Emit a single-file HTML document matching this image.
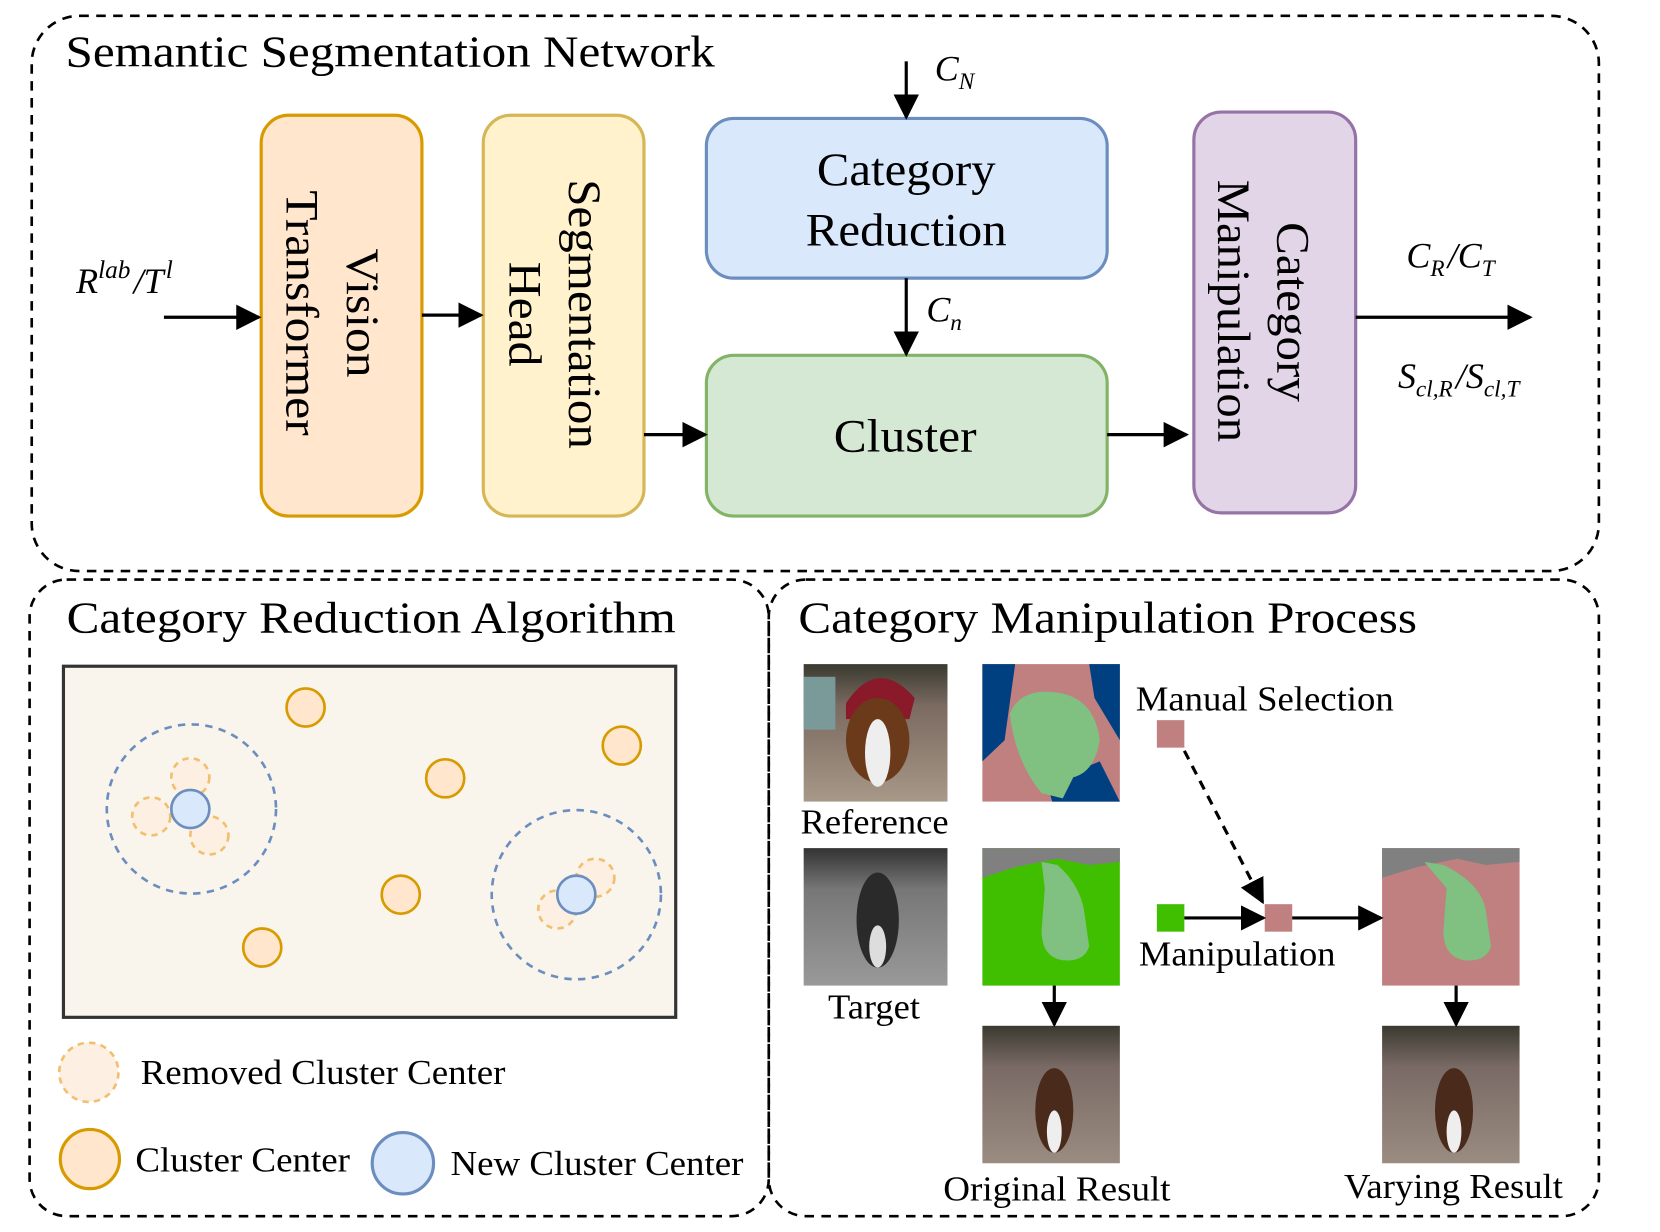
<!DOCTYPE html>
<html><head><meta charset="utf-8">
<style>html,body{margin:0;padding:0;background:#fff;}svg{display:block;}
text{font-family:"Liberation Serif",serif;fill:#000;}</style></head>
<body>
<svg width="1660" height="1232" viewBox="0 0 1569.8 1165" preserveAspectRatio="none" xmlns="http://www.w3.org/2000/svg">
<defs>
<marker id="a2" viewBox="0 0 10 10" refX="9" refY="5" markerWidth="24" markerHeight="24" orient="auto" markerUnits="userSpaceOnUse"><path d="M0,0 L10,5 L0,10 z" fill="#000"/></marker>
<linearGradient id="gph" x1="0" y1="0" x2="0" y2="1"><stop offset="0" stop-color="#3a3a30"/><stop offset="0.3" stop-color="#7a6a60"/><stop offset="1" stop-color="#a89888"/></linearGradient>
<linearGradient id="gph2" x1="0" y1="0" x2="0" y2="1"><stop offset="0" stop-color="#3a3a30"/><stop offset="0.3" stop-color="#7a6a66"/><stop offset="1" stop-color="#9a8c80"/></linearGradient>
<linearGradient id="ggr" x1="0" y1="0" x2="0" y2="1"><stop offset="0" stop-color="#333"/><stop offset="0.3" stop-color="#777"/><stop offset="1" stop-color="#999"/></linearGradient>
</defs>

<rect x="30" y="15" width="1482" height="525" rx="45" fill="none" stroke="#000" stroke-width="2.5" stroke-dasharray="9,7"/>
<rect x="28" y="548" width="699" height="602" rx="35" fill="none" stroke="#000" stroke-width="2.5" stroke-dasharray="9,7"/>
<rect x="727" y="548" width="785" height="602" rx="35" fill="none" stroke="#000" stroke-width="2.5" stroke-dasharray="9,7"/>

<text x="62" y="63" font-size="42" textLength="614" lengthAdjust="spacingAndGlyphs">Semantic Segmentation Network</text>

<rect x="247" y="109" width="152" height="379" rx="26" fill="#ffe6cc" stroke="#d79b00" stroke-width="3"/>
<rect x="457" y="109" width="152" height="379" rx="26" fill="#fff2cc" stroke="#d6b656" stroke-width="3"/>
<rect x="668" y="112" width="379" height="151" rx="26" fill="#dae8fc" stroke="#6c8ebf" stroke-width="3"/>
<rect x="668" y="336" width="379" height="152" rx="26" fill="#d5e8d4" stroke="#82b366" stroke-width="3"/>
<rect x="1129" y="106" width="153" height="379" rx="26" fill="#e1d5e7" stroke="#9673a6" stroke-width="3"/>

<g font-size="44" text-anchor="middle">
<text transform="translate(328,296) rotate(90)" textLength="122" lengthAdjust="spacingAndGlyphs">Vision</text>
<text transform="translate(271,296) rotate(90)" textLength="232" lengthAdjust="spacingAndGlyphs">Transformer</text>
<text transform="translate(538,297) rotate(90)" textLength="255" lengthAdjust="spacingAndGlyphs">Segmentation</text>
<text transform="translate(482,297) rotate(90)" textLength="99" lengthAdjust="spacingAndGlyphs">Head</text>
<text x="857" y="175" textLength="169" lengthAdjust="spacingAndGlyphs">Category</text>
<text x="857" y="232" textLength="190" lengthAdjust="spacingAndGlyphs">Reduction</text>
<text x="856" y="427" textLength="135" lengthAdjust="spacingAndGlyphs">Cluster</text>
<text transform="translate(1208,295) rotate(90)" textLength="170" lengthAdjust="spacingAndGlyphs">Category</text>
<text transform="translate(1152,294) rotate(90)" textLength="248" lengthAdjust="spacingAndGlyphs">Manipulation</text>
</g>

<g stroke="#000" stroke-width="3" fill="none">
<line x1="155" y1="300" x2="245" y2="300" marker-end="url(#a2)"/>
<line x1="399" y1="298" x2="455" y2="298" marker-end="url(#a2)"/>
<line x1="609" y1="411" x2="667" y2="411" marker-end="url(#a2)"/>
<line x1="1047" y1="411" x2="1122" y2="411" marker-end="url(#a2)"/>
<line x1="857" y1="58" x2="857" y2="111" marker-end="url(#a2)"/>
<line x1="857" y1="263" x2="857" y2="335" marker-end="url(#a2)"/>
<line x1="1282" y1="300" x2="1447" y2="300" marker-end="url(#a2)"/>
</g>

<g font-style="italic" font-size="34">
<text x="72" y="277">R<tspan font-size="24" dy="-14">lab</tspan><tspan dy="14" dx="3">/T</tspan><tspan font-size="24" dy="-14" dx="2">l</tspan></text>
<text x="884" y="76">C<tspan font-size="22" dy="8">N</tspan></text>
<text x="876" y="304">C<tspan font-size="22" dy="8">n</tspan></text>
<text x="1330" y="253">C<tspan font-size="22" dy="8">R</tspan><tspan dy="-8" dx="3">/C</tspan><tspan font-size="22" dy="8">T</tspan></text>
<text x="1322" y="367">S<tspan font-size="22" dy="8">cl,R</tspan><tspan dy="-8" dx="3">/S</tspan><tspan font-size="22" dy="8">cl,T</tspan></text>
</g>

<text x="63" y="598" font-size="42" textLength="576" lengthAdjust="spacingAndGlyphs">Category Reduction Algorithm</text>
<rect x="60" y="630" width="579" height="332" fill="#f9f5ec" stroke="#333" stroke-width="3"/>
<g fill="none" stroke="#6c8ebf" stroke-width="2.5" stroke-dasharray="7,6">
<circle cx="181" cy="765" r="80"/><circle cx="545" cy="846" r="80"/>
</g>
<g fill="#fdf0e2" stroke="#f0c070" stroke-width="2.5" stroke-dasharray="6,5">
<circle cx="180" cy="735" r="18"/><circle cx="143" cy="772" r="18"/><circle cx="198" cy="790" r="18"/>
<circle cx="563" cy="830" r="18"/><circle cx="527" cy="860" r="18"/>
</g>
<g fill="#ffe6cc" stroke="#d79b00" stroke-width="2.5">
<circle cx="289" cy="669" r="18"/><circle cx="588" cy="705" r="18"/><circle cx="421" cy="736" r="18"/>
<circle cx="379" cy="846" r="18"/><circle cx="248" cy="896" r="18"/>
</g>
<g fill="#dae8fc" stroke="#6c8ebf" stroke-width="2.5">
<circle cx="180" cy="765" r="18"/><circle cx="545" cy="846" r="18"/>
</g>
<circle cx="84" cy="1014" r="28" fill="#fdf0e2" stroke="#f0c070" stroke-width="2.5" stroke-dasharray="6,5"/>
<circle cx="85" cy="1096" r="28" fill="#ffe6cc" stroke="#d79b00" stroke-width="3"/>
<circle cx="381" cy="1100" r="29" fill="#dae8fc" stroke="#6c8ebf" stroke-width="3"/>
<g font-size="33">
<text x="133" y="1025" textLength="345" lengthAdjust="spacingAndGlyphs">Removed Cluster Center</text>
<text x="128" y="1108" textLength="203" lengthAdjust="spacingAndGlyphs">Cluster Center</text>
<text x="426" y="1111" textLength="277" lengthAdjust="spacingAndGlyphs">New Cluster Center</text>
</g>

<text x="755" y="598" font-size="42" textLength="585" lengthAdjust="spacingAndGlyphs">Category Manipulation Process</text>

<rect x="760" y="628" width="136" height="130" fill="url(#gph)"/>
<rect x="760" y="640" width="30" height="50" fill="#7a9a9a"/>
<path d="M800,665 Q830,620 865,660 L860,680 L800,680z" fill="#8a1a2a"/>
<ellipse cx="830" cy="700" rx="30" ry="40" fill="#6a3a1a"/>
<ellipse cx="830" cy="712" rx="12" ry="32" fill="#eee"/>
<rect x="929" y="628" width="130" height="130" fill="#c08080"/>
<path d="M929,628 L960,628 L950,700 L929,720z M1030,628 L1059,628 L1059,700 L1035,660z M990,740 L1040,720 L1059,758 L995,758z" fill="#004080"/>
<path d="M955,675 Q965,650 1000,655 Q1035,660 1040,700 Q1035,730 1015,735 L1005,755 L985,750 Q960,720 955,675z" fill="#80c080"/>
<rect x="760" y="802" width="136" height="130" fill="url(#ggr)"/>
<ellipse cx="830" cy="870" rx="20" ry="45" fill="#2a2a2a"/>
<ellipse cx="830" cy="895" rx="8" ry="20" fill="#ddd"/>
<rect x="929" y="802" width="130" height="130" fill="#40bf00"/>
<path d="M929,802 L1059,802 L1059,815 L1030,818 L1000,812 L960,820 L929,830z" fill="#808080"/>
<path d="M985,815 L1000,818 Q1020,835 1025,860 L1030,895 Q1025,910 1005,908 Q985,905 985,880 L988,840 Z" fill="#80c080"/>
<rect x="1307" y="802" width="130" height="130" fill="#c08080"/>
<path d="M1307,802 L1437,802 L1437,815 L1405,818 L1378,812 L1340,820 L1307,830z" fill="#808080"/>
<path d="M1347,815 L1365,818 Q1400,835 1405,860 L1410,895 Q1405,910 1385,908 Q1365,905 1365,880 L1368,840 Z" fill="#80c080"/>
<rect x="929" y="970" width="130" height="130" fill="url(#gph2)"/>
<ellipse cx="997" cy="1050" rx="18" ry="40" fill="#4a2a1a"/>
<ellipse cx="997" cy="1070" rx="7" ry="20" fill="#eee"/>
<rect x="1307" y="970" width="130" height="130" fill="url(#gph2)"/>
<ellipse cx="1375" cy="1050" rx="18" ry="40" fill="#4a2a1a"/>
<ellipse cx="1375" cy="1070" rx="7" ry="20" fill="#eee"/>

<rect x="1094" y="681" width="26" height="26" fill="#c08080"/>
<rect x="1094" y="855" width="26" height="26" fill="#40bf00"/>
<rect x="1196" y="855" width="26" height="26" fill="#c08080"/>

<g stroke="#000" stroke-width="3" fill="none">
<line x1="1120" y1="868" x2="1195" y2="868" marker-end="url(#a2)"/>
<line x1="1222" y1="868" x2="1306" y2="868" marker-end="url(#a2)"/>
<line x1="1120" y1="710" x2="1194" y2="853" stroke-dasharray="9,7" marker-end="url(#a2)"/>
<line x1="997" y1="932" x2="997" y2="969" marker-end="url(#a2)"/>
<line x1="1377" y1="932" x2="1377" y2="969" marker-end="url(#a2)"/>
</g>

<g font-size="33">
<text x="757" y="788" textLength="140" lengthAdjust="spacingAndGlyphs">Reference</text>
<text x="783" y="963" textLength="87" lengthAdjust="spacingAndGlyphs">Target</text>
<text x="1074" y="672" textLength="244" lengthAdjust="spacingAndGlyphs">Manual Selection</text>
<text x="1077" y="913" textLength="186" lengthAdjust="spacingAndGlyphs">Manipulation</text>
<text x="892" y="1135" textLength="215" lengthAdjust="spacingAndGlyphs">Original Result</text>
<text x="1271" y="1133" textLength="207" lengthAdjust="spacingAndGlyphs">Varying Result</text>
</g>
</svg>
</body></html>
